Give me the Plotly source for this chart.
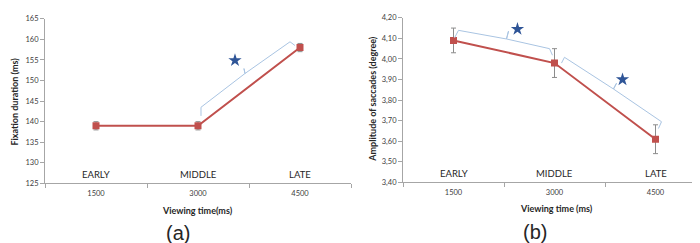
import plotly.graph_objects as go

# ---- data ----
view_times = [1500, 3000, 4500]
phase_labels = ["EARLY", "MIDDLE", "LATE"]
fix_duration = [139, 139, 158]
fix_err = [1.0, 1.0, 1.0]
sacc_amp = [4.09, 3.98, 3.61]
sacc_err = [0.06, 0.07, 0.07]

# significance brackets (data coordinates)
br_a_x = [3044, 3044, 3691, 3676, 3691, 4353, 4426]
br_a_y = [141.4, 143.5, 151.7, 152.9, 151.7, 159.4, 158.5]
star_a = (3544, 154.9)
br_b1_x = [1515, 1574, 2287, 2317, 2287, 2926, 2970]
br_b1_y = [4.102, 4.139, 4.097, 4.135, 4.097, 4.050, 4.018]
star_b1 = (2450, 4.145)
br_b2_x = [3104, 3148, 3876, 3921, 3876, 4589, 4544]
br_b2_y = [3.980, 4.008, 3.854, 3.882, 3.854, 3.695, 3.662]
star_b2 = (4010, 3.90)

RED = "#c0504d"
GRAY = "#8c8c8c"
BRACE = "#a9c4e2"
STAR = "#2f5597"
FONT = "Lato"

fig = go.Figure()

def add_series(y, err, xa, ya):
    fig.add_trace(go.Scatter(
        x=view_times, y=y, mode="lines+markers", xaxis=xa, yaxis=ya,
        line=dict(color=RED, width=2),
        marker=dict(symbol="square", size=7, color=RED),
        error_y=dict(type="data", array=err, color=GRAY, thickness=1, width=2.5),
        showlegend=False, hoverinfo="skip"))

add_series(fix_duration, fix_err, "x", "y")
add_series(sacc_amp, sacc_err, "x2", "y2")

for bx, by, xa, ya in [(br_a_x, br_a_y, "x", "y"),
                       (br_b1_x, br_b1_y, "x2", "y2"),
                       (br_b2_x, br_b2_y, "x2", "y2")]:
    fig.add_trace(go.Scatter(x=bx, y=by, mode="lines", xaxis=xa, yaxis=ya,
                             line=dict(color=BRACE, width=1),
                             showlegend=False, hoverinfo="skip"))

for (sx, sy), xa, ya in [(star_a, "x", "y"), (star_b1, "x2", "y2"), (star_b2, "x2", "y2")]:
    fig.add_trace(go.Scatter(x=[sx], y=[sy], mode="markers", xaxis=xa, yaxis=ya,
                             marker=dict(symbol="star", size=10, color=STAR),
                             showlegend=False, hoverinfo="skip"))

xcommon = dict(range=[750, 5250], tickvals=view_times, ticktext=[str(v) for v in view_times],
               ticks="", showline=True, linecolor="#a6a6a6", linewidth=1,
               showgrid=False, zeroline=False, fixedrange=True,
               tickfont=dict(family=FONT, size=7.5, color="#404040"),
               ticklabelstandoff=3,
               minor=dict(tickvals=[750, 2250, 3750, 5250], ticks="outside",
                          ticklen=4, tickcolor="#a6a6a6", showgrid=False))
ycommon = dict(showline=True, linecolor="#a6a6a6", linewidth=1, ticks="outside",
               ticklen=4, tickcolor="#a6a6a6", showgrid=False, zeroline=False,
               tickfont=dict(family=FONT, size=7.5, color="#404040"))

fig.update_layout(
    width=700, height=243, margin=dict(l=0, r=0, t=0, b=0),
    paper_bgcolor="white", plot_bgcolor="white", separators=",.",
    xaxis=dict(domain=[37/700, 343/700], anchor="y", **xcommon),
    yaxis=dict(domain=[1-178/243, 1-7/243], range=[125, 165], dtick=5, anchor="x", **ycommon),
    xaxis2=dict(domain=[395/700, 698/700], anchor="y2", **xcommon),
    yaxis2=dict(domain=[1-177/243, 1-6/243], range=[3.4, 4.2], dtick=0.1,
                tickformat=".2f", anchor="x2", **ycommon),
)

ann = []
for xv, lab in zip(view_times, phase_labels):
    ann.append(dict(x=xv, y=127.2, xref="x", yref="y", text=lab, showarrow=False,
                    xanchor="center", yanchor="middle",
                    font=dict(family=FONT, size=9.5, color="#262626")))
    ann.append(dict(x=xv, y=3.443, xref="x2", yref="y2", text=lab, showarrow=False,
                    xanchor="center", yanchor="middle",
                    font=dict(family=FONT, size=9.5, color="#262626")))

bold = dict(family=FONT, size=9, color="#262626")
def pann(px, py, text, font, angle=0):
    return dict(x=px/700, y=1-py/243, xref="paper", yref="paper", text=text,
                showarrow=False, xanchor="center", yanchor="middle",
                textangle=angle, font=font)

ann += [
    pann(190, 206, "<b>Viewing time(ms)</b>", bold),
    pann(548, 204, "<b>Viewing time (ms)</b>", bold),
    pann(7, 93, "<b>Fixation duration (ms)</b>", bold, -90),
    pann(365, 90, "<b>Amplitude of saccades (degree)</b>", bold, -90),
    pann(170, 230, "(a)", dict(family="Liberation Sans", size=20, color="#262626")),
    pann(527, 228, "(b)", dict(family="Liberation Sans", size=20, color="#262626")),
]
fig.update_layout(annotations=ann)

fig.write_html("out.html")
